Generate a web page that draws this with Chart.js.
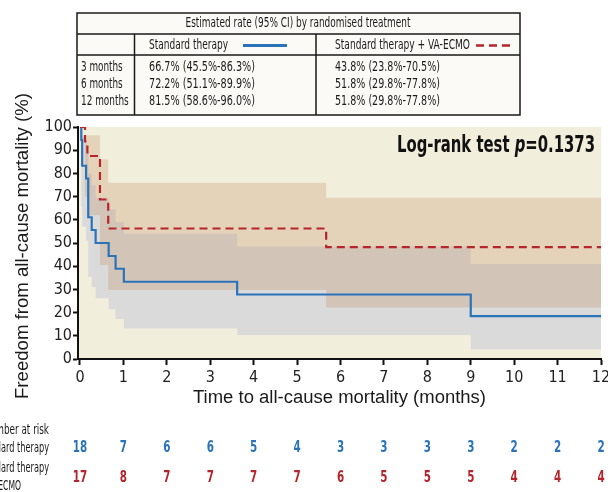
<!DOCTYPE html>
<html>
<head>
<meta charset="utf-8">
<script src="https://cdn.jsdelivr.net/npm/chart.js@4.4.1/dist/chart.umd.min.js"></script>
<style>
  html, body { margin: 0; padding: 0; background: #ffffff; }
  #wrap { width: 608px; height: 492px; }
</style>
</head>
<body>
<div id="wrap"><canvas id="c" width="608" height="492"></canvas></div>
<script>
// ---------------- DATA ----------------
const monthTicks = [0, 1, 2, 3, 4, 5, 6, 7, 8, 9, 10, 11, 12];
const survTicks = [0, 10, 20, 30, 40, 50, 60, 70, 80, 90, 100];

// Standard therapy (Kaplan-Meier, %)
const stdTimes = [0, 0.03, 0.05, 0.14, 0.19, 0.27, 0.36, 0.66, 0.82, 1.01, 3.62, 9.0, 12];
const stdSurv  = [100, 94.4, 83.3, 77.8, 61.1, 55.6, 50.0, 44.4, 38.9, 33.3, 27.8, 18.5, 18.5];
const stdLower = [100, 66.0, 57.0, 51.0, 35.5, 30.9, 26.2, 21.4, 17.2, 13.2, 10.3, 4.2, 4.2];
const stdUpper = [100, 99.7, 96.0, 92.0, 80.0, 75.0, 69.5, 64.5, 59.0, 54.0, 48.5, 41.0, 41.0];

// Standard therapy + VA-ECMO (Kaplan-Meier, %)
const ecmoTimes = [0, 0.115, 0.17, 0.46, 0.65, 5.67, 12];
const ecmoSurv  = [100, 93.75, 87.5, 68.75, 56.25, 48.2, 48.2];
const ecmoLower = [100, 70.0, 62.0, 40.5, 29.7, 22.2, 22.2];
const ecmoUpper = [100, 96.4, 96.4, 86.0, 76.0, 69.5, 69.5];

// Number at risk
const riskStd  = [18, 7, 6, 6, 5, 4, 3, 3, 3, 3, 2, 2, 2];
const riskEcmo = [17, 8, 7, 7, 7, 7, 6, 5, 5, 5, 4, 4, 4];

// Estimated rate table
const tableTitle = 'Estimated rate (95% CI) by randomised treatment';
const groupNames = ['Standard therapy', 'Standard therapy + VA-ECMO'];
const rowLabels = ['3 months', '6 months', '12 months'];
const rateStd  = ['66.7% (45.5%-86.3%)', '72.2% (51.1%-89.9%)', '81.5% (58.6%-96.0%)'];
const rateEcmo = ['43.8% (23.8%-70.5%)', '51.8% (29.8%-77.8%)', '51.8% (29.8%-77.8%)'];

const logRankLabel = ['Log-rank test ', 'p', '=0.1373'];

// ---------------- STYLE ----------------
const BLUE = '#2a73b9';
const RED = '#b5252b';
const NARROW = '"Liberation Sans Narrow", "DejaVu Sans Condensed", "Arial Narrow", sans-serif';
const REG = '"Liberation Sans", Arial, "DejaVu Sans", sans-serif';

function pts(xs, ys) { return xs.map((x, i) => ({ x: x, y: ys[i] })); }

function txt(ctx, s, x, y, font, color, align, w, baseline) {
  ctx.save();
  ctx.font = font;
  ctx.fillStyle = color;
  ctx.textBaseline = baseline || 'middle';
  ctx.textAlign = 'left';
  const m = ctx.measureText(s).width;
  const sx = w ? w / m : 1;
  const tw = m * sx;
  let left = x;
  if (align === 'center') left = x - tw / 2;
  else if (align === 'right') left = x - tw;
  ctx.translate(left, y);
  ctx.scale(sx, 1);
  ctx.fillText(s, 0, 0);
  ctx.restore();
  return tw;
}

const decorPlugin = {
  id: 'decor',
  beforeDraw(chart) {
    const ctx = chart.ctx, a = chart.chartArea;
    ctx.save();
    ctx.fillStyle = '#ffffff';
    ctx.fillRect(0, 0, chart.width, chart.height);
    ctx.fillStyle = '#f2eedc';
    ctx.fillRect(a.left, a.top, a.right - a.left, a.bottom - a.top);
    ctx.restore();
  },
  afterDraw(chart) {
    const ctx = chart.ctx;
    const xs = chart.scales.x;

    // ---- estimated rate table ----
    ctx.save();
    ctx.fillStyle = '#fbfaf6';
    ctx.fillRect(77, 13, 443, 102);
    ctx.strokeStyle = '#1a1a1a';
    ctx.lineWidth = 1.5;
    ctx.strokeRect(77, 13, 443, 102);
    ctx.beginPath();
    ctx.moveTo(77, 34); ctx.lineTo(520, 34);
    ctx.moveTo(77, 55); ctx.lineTo(520, 55);
    ctx.moveTo(134.5, 34); ctx.lineTo(134.5, 115);
    ctx.moveTo(316, 34); ctx.lineTo(316, 115);
    ctx.stroke();
    ctx.restore();

    const tf = '14.5px ' + NARROW;
    const tc = '#1a1a1a';
    txt(ctx, tableTitle, 298, 23.5, tf, tc, 'center', 225);
    txt(ctx, groupNames[0], 149, 45, tf, tc, 'left', 79);
    txt(ctx, groupNames[1], 335, 45, tf, tc, 'left', 135);
    ctx.save();
    ctx.strokeStyle = BLUE; ctx.lineWidth = 3;
    ctx.beginPath(); ctx.moveTo(243, 45.5); ctx.lineTo(287, 45.5); ctx.stroke();
    ctx.strokeStyle = RED; ctx.lineWidth = 2.5; ctx.setLineDash([8, 5]);
    ctx.beginPath(); ctx.moveTo(476, 45.5); ctx.lineTo(510, 45.5); ctx.stroke();
    ctx.restore();
    const rowY = [67.5, 84.5, 101];
    const rowW = [41.7, 41.7, 47.7];
    for (let i = 0; i < 3; i++) {
      txt(ctx, rowLabels[i], 81, rowY[i], tf, tc, 'left', rowW[i]);
      txt(ctx, rateStd[i], 149, rowY[i], tf, tc, 'left', 106);
      txt(ctx, rateEcmo[i], 335, rowY[i], tf, tc, 'left', 105);
    }

    // ---- log-rank text ----
    ctx.save();
    const fb = 'bold 23px ' + NARROW;
    const fbi = 'italic bold 23px ' + NARROW;
    ctx.font = fb; const w1 = ctx.measureText(logRankLabel[0]).width;
    ctx.font = fbi; const w2 = ctx.measureText(logRankLabel[1]).width;
    ctx.font = fb; const w3 = ctx.measureText(logRankLabel[2]).width;
    const total = w1 + w2 + w3, target = 198, k = target / total;
    let lx = 595 - target;
    txt(ctx, logRankLabel[0], lx, 146, fb, '#111', 'left', w1 * k); lx += w1 * k;
    txt(ctx, logRankLabel[1], lx, 146, fbi, '#111', 'left', w2 * k); lx += w2 * k;
    txt(ctx, logRankLabel[2], lx, 146, fb, '#111', 'left', w3 * k);
    ctx.restore();

    // ---- axis titles ----
    txt(ctx, 'Time to all-cause mortality (months)', 339.5, 403, '18px ' + REG, '#1a1a1a', 'center', 293, 'alphabetic');
    ctx.save();
    ctx.translate(27.5, 246);
    ctx.rotate(-Math.PI / 2);
    txt(ctx, 'Freedom from all-cause mortality (%)', 0, 0, '18px ' + REG, '#1a1a1a', 'center', 306, 'alphabetic');
    ctx.restore();

    // ---- number at risk ----
    const lf = '14.5px ' + NARROW;
    txt(ctx, 'Number at risk', 49, 430, lf, tc, 'right', 66);
    const sw = txt(ctx, 'Standard therapy', 49, 448, lf, tc, 'right', 72);
    txt(ctx, 'Standard therapy', 49, 468, lf, tc, 'right', 72);
    txt(ctx, '+ VA-ECMO', 49 - sw, 486, lf, tc, 'left', 44);
    const nf = 'bold 16px ' + NARROW;
    for (let i = 0; i < monthTicks.length; i++) {
      const px = xs.getPixelForValue(monthTicks[i]);
      const s1 = String(riskStd[i]), s2 = String(riskEcmo[i]);
      txt(ctx, s1, px, 448, nf, BLUE, 'center', s1.length * 7.2);
      txt(ctx, s2, px, 478, nf, RED, 'center', s2.length * 7.2);
    }
  }
};

const ctx = document.getElementById('c').getContext('2d');
new Chart(ctx, {
  type: 'line',
  data: {
    datasets: [
      { label: 'std upper', data: pts(stdTimes, stdUpper), stepped: 'before', borderWidth: 0, pointRadius: 0,
        borderColor: 'rgba(0,0,0,0)', fill: '+1', backgroundColor: 'rgb(218,218,218)', order: 5 },
      { label: 'std lower', data: pts(stdTimes, stdLower), stepped: 'before', borderWidth: 0, pointRadius: 0,
        borderColor: 'rgba(0,0,0,0)', fill: false, order: 5 },
      { label: 'ecmo upper', data: pts(ecmoTimes, ecmoUpper), stepped: 'before', borderWidth: 0, pointRadius: 0,
        borderColor: 'rgba(0,0,0,0)', fill: '+1', backgroundColor: 'rgba(196,146,106,0.30)', order: 3 },
      { label: 'ecmo lower', data: pts(ecmoTimes, ecmoLower), stepped: 'before', borderWidth: 0, pointRadius: 0,
        borderColor: 'rgba(0,0,0,0)', fill: false, order: 3 },
      { label: 'Standard therapy', data: pts(stdTimes, stdSurv), stepped: 'before', borderWidth: 2.2, pointRadius: 0,
        borderColor: BLUE, fill: false, order: 1 },
      { label: 'Standard therapy + VA-ECMO', data: pts(ecmoTimes, ecmoSurv), stepped: 'before', borderWidth: 2.2, pointRadius: 0,
        borderColor: RED, borderDash: [8, 5], fill: false, order: 0 }
    ]
  },
  options: {
    responsive: false,
    animation: false,
    devicePixelRatio: 1,
    layout: { padding: { top: 127, right: 7, left: 0, bottom: 0 } },
    plugins: { legend: { display: false }, tooltip: { enabled: false }, title: { display: false } },
    scales: {
      x: {
        type: 'linear', min: -0.046, max: 12,
        afterBuildTicks: (s) => { s.ticks = monthTicks.map(v => ({ value: v })); },
        afterFit: (s) => { s.height = 133; s.paddingLeft = 0; s.paddingRight = 0; },
        grid: { drawOnChartArea: false, drawTicks: true, tickLength: 6, tickWidth: 2, tickColor: '#111' },
        border: { display: true, color: '#111', width: 2 },
        ticks: { font: { family: NARROW, size: 16 }, color: '#222', padding: 3, maxRotation: 0, autoSkip: false }
      },
      y: {
        type: 'linear', min: 0, max: 100,
        afterBuildTicks: (s) => { s.ticks = survTicks.map(v => ({ value: v })); },
        afterFit: (s) => { s.width = 78; s.paddingTop = 0; s.paddingBottom = 0; },
        grid: { drawOnChartArea: false, drawTicks: true, tickLength: 5, tickWidth: 2, tickColor: '#111' },
        border: { display: true, color: '#111', width: 2 },
        ticks: { font: { family: NARROW, size: 16 }, color: '#222', padding: 1, autoSkip: false }
      }
    }
  },
  plugins: [decorPlugin]
});
</script>
</body>
</html>
